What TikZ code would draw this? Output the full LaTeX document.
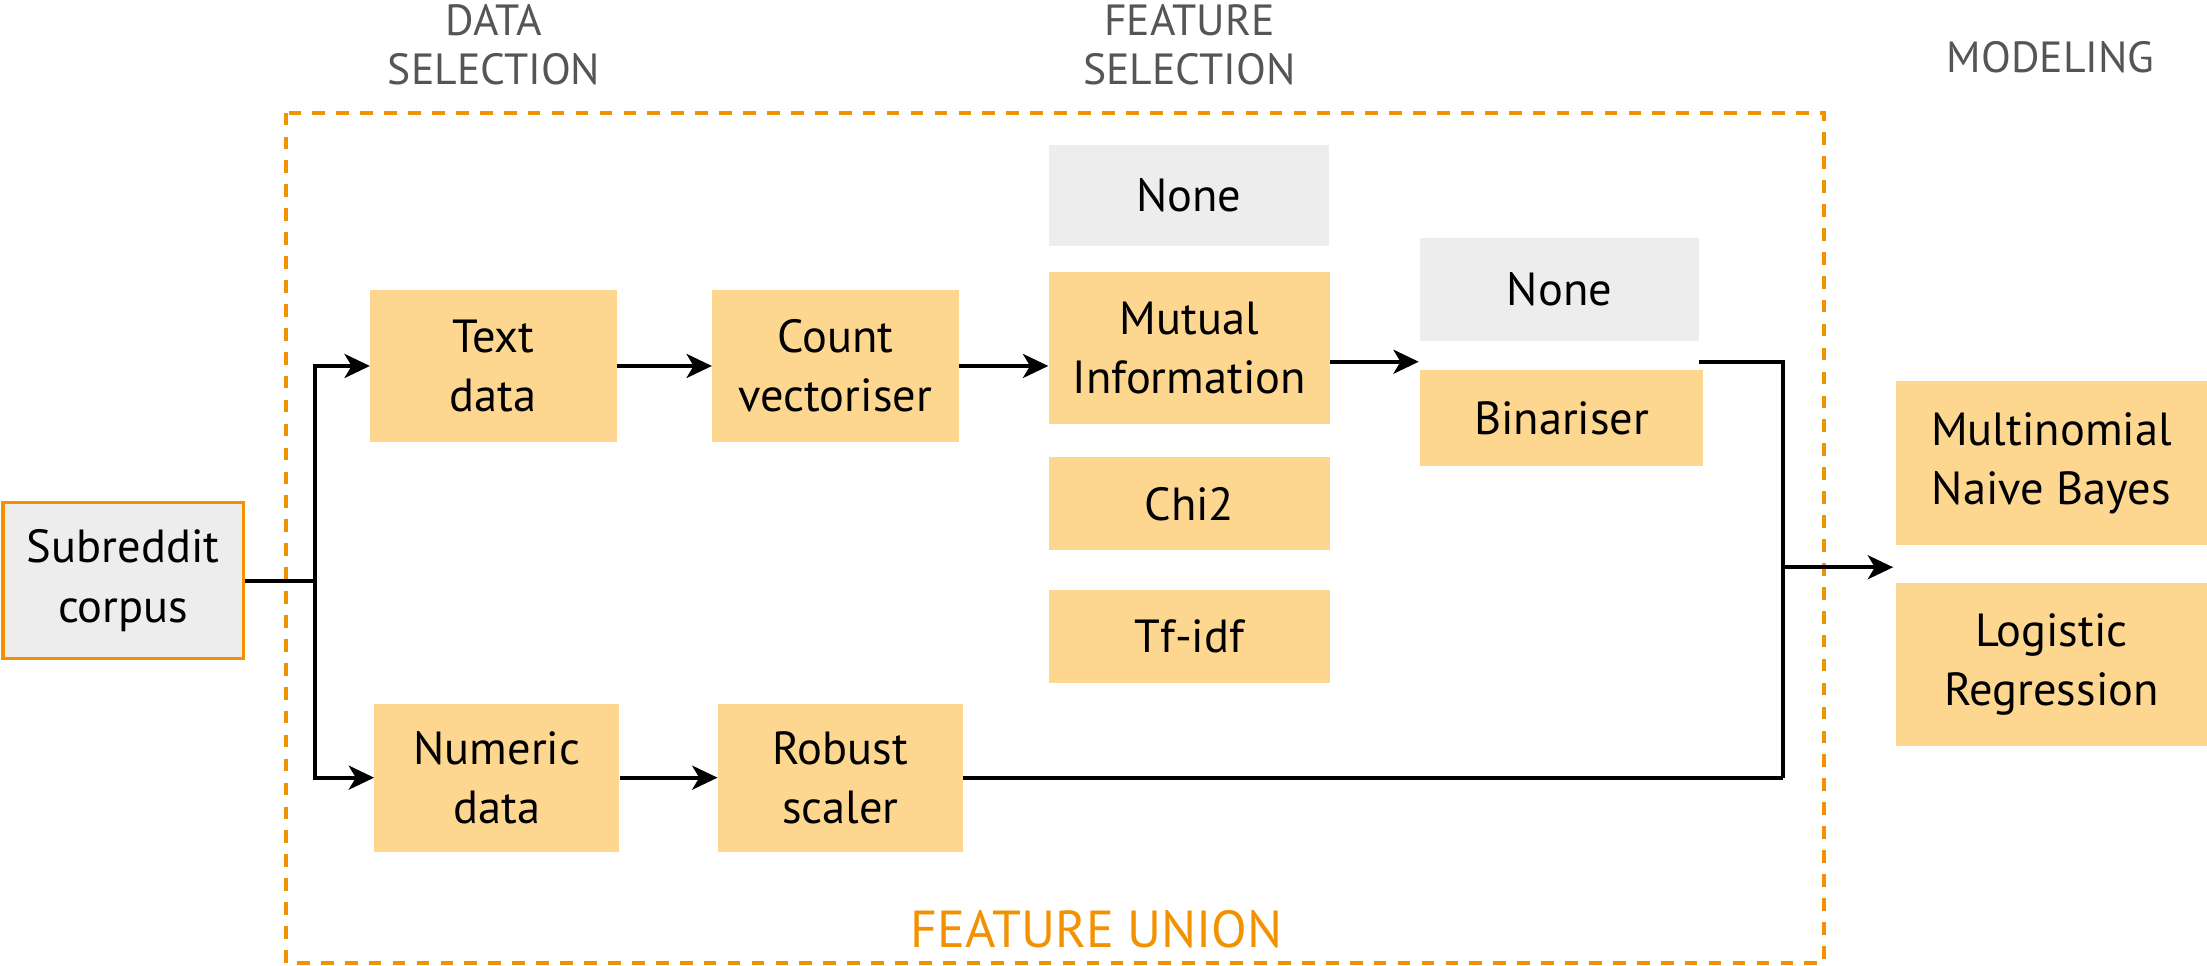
\documentclass[tikz,border=0pt]{standalone}
\usepackage{fontspec}
\setmainfont{PT Sans}
\usetikzlibrary{arrows.meta}
\definecolor{boxfill}{HTML}{FDD78F}
\definecolor{grayfill}{HTML}{EDEDED}
\definecolor{orng}{HTML}{F39200}
\definecolor{labelgray}{HTML}{555555}
\begin{document}
\begin{tikzpicture}[x=1pt,y=-1pt,
  box/.style={fill=boxfill, inner sep=0pt, align=center, font=\fontsize{33}{42}\selectfont},
  nonebox/.style={box, fill=grayfill},
  conn/.style={line width=2.9pt, draw=black},
  arr/.style={conn, -{Stealth[length=18pt,width=17pt,inset=5pt]}},
  hdr/.style={text=labelgray, align=center, font=\fontsize{31}{35}\selectfont},
]
\useasboundingbox (0,0) rectangle (1568,686);
\draw[orng, line width=2.8pt, dash pattern=on 9pt off 8pt] (203,80) rectangle (1296,684);

\node[hdr] (hdata) at (351,32) {DATA\\SELECTION};
\node[hdr] (hfeat) at (845,32) {FEATURE\\SELECTION};
\node[hdr] (hmod) at (1457,41) {MODELING};
\node[text=orng, font=\fontsize{37}{40}\selectfont] (funion) at (779,660) {FEATURE UNION};

\node[box, fill=grayfill, draw=orng, line width=2.4pt, minimum width=171pt, minimum height=111pt] (corpus) at (87.5,412.5) {Subreddit\\corpus};
\node[box, minimum width=175pt, minimum height=108pt] (text) at (350.5,260) {Text\\data};
\node[box, minimum width=175pt, minimum height=108pt] (count) at (593.5,260) {Count\\vectoriser};
\node[nonebox, minimum width=199pt, minimum height=72pt] (none1) at (844.5,139) {None};
\node[box, minimum width=200pt, minimum height=108pt] (mi) at (845,247) {Mutual\\Information};
\node[box, minimum width=200pt, minimum height=66pt] (chi) at (845,358) {Chi2};
\node[box, minimum width=200pt, minimum height=66pt] (tfidf) at (845,452) {Tf-idf};
\node[nonebox, minimum width=198pt, minimum height=73pt] (none2) at (1108,205.5) {None};
\node[box, minimum width=201pt, minimum height=68pt] (bin) at (1109.5,297) {Binariser};
\node[box, minimum width=221pt, minimum height=116pt] (mnb) at (1457.5,329) {Multinomial\\Naive Bayes};
\node[box, minimum width=221pt, minimum height=116pt] (lr) at (1457.5,472) {Logistic\\Regression};
\node[box, minimum width=174pt, minimum height=105pt] (numeric) at (353,552.5) {Numeric\\data};
\node[box, minimum width=174pt, minimum height=105pt] (robust) at (597,552.5) {Robust\\scaler};

\coordinate (split) at (224,412.5);
\coordinate (selin) at (1008,257);
\coordinate (selout) at (1207,257);
\coordinate (jbot) at (1267,552.5);
\coordinate (join) at (1267,403);
\coordinate (mout) at (1345,403);

\draw[conn] (corpus.east) -- (split);
\draw[arr] (split) |- (text.west);
\draw[arr] (split) |- (numeric.west);
\draw[arr] (text) -- (count);
\draw[arr] (count.east) -- (count.east -| mi.west);
\draw[arr] (mi.east |- selin) -- (selin);
\draw[arr] (numeric) -- (robust);
\draw[conn] (selout) -| (jbot);
\draw[conn] (robust.east) -- (jbot);
\draw[arr] (join) -- (mout);
\end{tikzpicture}
\end{document}
